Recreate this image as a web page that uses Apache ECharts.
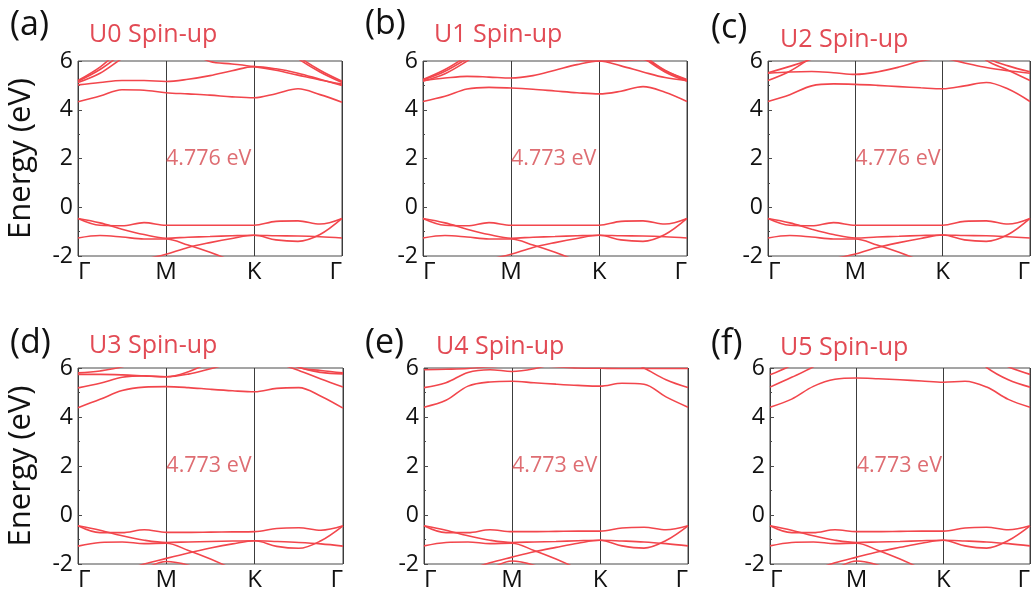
<!DOCTYPE html>
<html><head><meta charset="utf-8">
<script src="https://cdn.jsdelivr.net/npm/echarts@6/dist/echarts.min.js"></script>
<style>html,body{margin:0;padding:0;background:#fff}#c{width:1033px;height:592px}</style>
</head><body><div id="c"></div>
<script>
// ---- data ----
const kPos = [0, 0.25, 0.5, 0.75, 1, 1.25, 1.5, 1.75, 2, 2.25, 2.5, 2.75, 3];
const kLabels = ['Γ', 'M', 'K', 'Γ'];
const panelTags = ['(a)', '(b)', '(c)', '(d)', '(e)', '(f)'];
const panelTitles = ['U0 Spin-up', 'U1 Spin-up', 'U2 Spin-up', 'U3 Spin-up', 'U4 Spin-up', 'U5 Spin-up'];
const gapTexts = ['4.776 eV', '4.773 eV', '4.776 eV', '4.773 eV', '4.773 eV', '4.773 eV'];
const yAxisName = 'Energy (eV)';

const bandsA = [
  [4.33, 4.56, 4.82, 4.80, 4.70, 4.65, 4.60, 4.53, 4.49, 4.66, 4.86, 4.62, 4.31],
  [5.02, 5.12, 5.20, 5.20, 5.16, 5.25, 5.40, 5.60, 5.77, 5.68, 5.50, 5.25, 5.00],
  [5.12, 5.50, 6.10, 6.60, 6.80, 6.40, 5.98, 5.88, 5.77, 5.62, 5.42, 5.22, 5.05],
  [5.17, 5.65, 6.30, 6.90, 7.00, 7.00, 7.00, 7.00, 7.00, 6.80, 6.10, 5.55, 5.12],
  [5.20, 5.75, 6.50, 7.00, 7.00, 7.00, 7.00, 7.00, 7.00, 7.00, 6.20, 5.62, 5.17],
  [-0.46, -0.64, -0.90, -1.12, -1.27, -1.23, -1.20, -1.17, -1.15, -1.17, -1.18, -1.21, -1.26],
  [-0.46, -0.74, -0.76, -0.63, -0.74, -0.74, -0.74, -0.74, -0.74, -0.58, -0.56, -0.69, -0.46],
  [-1.26, -1.16, -1.22, -1.30, -1.30, -1.55, -1.85, -2.20, -2.60, -2.70, -2.60, -2.50, -2.40],
  [-2.90, -2.70, -2.45, -2.15, -1.93, -1.65, -1.45, -1.28, -1.15, -1.34, -1.40, -1.12, -0.46]
];
const bandsB = [
  [4.34, 4.55, 4.85, 4.92, 4.89, 4.84, 4.77, 4.70, 4.65, 4.76, 4.95, 4.72, 4.34],
  [5.20, 5.30, 5.37, 5.34, 5.30, 5.40, 5.62, 5.85, 6.00, 5.80, 5.55, 5.32, 5.20],
  [5.17, 5.48, 6.00, 6.60, 7.00, 6.70, 6.30, 6.05, 6.00, 6.02, 6.05, 5.60, 5.20],
  [5.22, 5.58, 6.10, 6.70, 7.00, 7.00, 7.00, 7.00, 7.00, 6.90, 6.15, 5.55, 5.17],
  [5.24, 5.65, 6.20, 6.80, 7.00, 7.00, 7.00, 7.00, 7.00, 7.00, 6.25, 5.62, 5.24],
  [-0.46, -0.64, -0.90, -1.12, -1.27, -1.23, -1.20, -1.17, -1.15, -1.17, -1.18, -1.21, -1.26],
  [-0.46, -0.74, -0.76, -0.63, -0.74, -0.74, -0.74, -0.74, -0.74, -0.58, -0.56, -0.69, -0.46],
  [-1.26, -1.16, -1.22, -1.30, -1.30, -1.55, -1.85, -2.20, -2.60, -2.70, -2.60, -2.50, -2.40],
  [-2.90, -2.70, -2.45, -2.15, -1.93, -1.65, -1.45, -1.28, -1.15, -1.34, -1.40, -1.12, -0.46]
];
const bandsC = [
  [4.34, 4.62, 4.98, 5.06, 5.04, 5.00, 4.95, 4.90, 4.86, 4.98, 5.12, 4.85, 4.34],
  [5.50, 5.55, 5.57, 5.52, 5.45, 5.55, 5.75, 6.00, 6.10, 5.92, 5.73, 5.60, 5.50],
  [5.20, 5.58, 6.15, 6.70, 7.00, 7.00, 7.00, 7.00, 7.00, 6.80, 6.03, 5.62, 5.20],
  [5.52, 5.78, 6.08, 6.50, 7.00, 7.00, 7.00, 7.00, 7.00, 7.00, 6.15, 5.80, 5.56],
  [-0.46, -0.64, -0.90, -1.12, -1.26, -1.22, -1.19, -1.16, -1.14, -1.16, -1.17, -1.21, -1.26],
  [-0.46, -0.74, -0.76, -0.63, -0.74, -0.74, -0.74, -0.74, -0.74, -0.58, -0.56, -0.69, -0.46],
  [-1.26, -1.16, -1.22, -1.30, -1.30, -1.55, -1.85, -2.20, -2.60, -2.70, -2.60, -2.50, -2.40],
  [-2.90, -2.65, -2.40, -2.12, -1.92, -1.65, -1.45, -1.28, -1.14, -1.34, -1.40, -1.12, -0.46]
];
const bandsD = [
  [4.38, 4.72, 5.08, 5.22, 5.24, 5.20, 5.13, 5.07, 5.03, 5.17, 5.20, 4.85, 4.36],
  [5.19, 5.38, 5.62, 5.68, 5.64, 5.75, 5.97, 6.20, 6.40, 6.20, 5.90, 5.55, 5.22],
  [5.74, 5.74, 5.72, 5.68, 5.64, 5.85, 6.25, 6.70, 7.00, 6.70, 6.05, 5.82, 5.76],
  [5.80, 5.88, 6.05, 6.40, 7.00, 7.00, 7.00, 7.00, 7.00, 6.50, 6.02, 5.90, 5.80],
  [-0.44, -0.62, -0.85, -1.03, -1.12, -1.10, -1.08, -1.06, -1.05, -1.08, -1.12, -1.18, -1.27],
  [-0.44, -0.72, -0.72, -0.60, -0.71, -0.71, -0.70, -0.69, -0.68, -0.55, -0.52, -0.62, -0.44],
  [-1.27, -1.12, -1.10, -1.17, -1.15, -1.45, -1.80, -2.20, -2.60, -2.70, -2.60, -2.50, -2.40],
  [-2.90, -2.60, -2.30, -2.00, -1.77, -1.55, -1.35, -1.18, -1.05, -1.28, -1.36, -1.05, -0.44],
  [-3.00, -3.00, -2.70, -2.20, -1.90, -2.05, -2.40, -2.80, -3.00, -3.00, -3.00, -3.00, -3.00]
];
const bandsE = [
  [4.40, 4.68, 5.26, 5.43, 5.46, 5.40, 5.34, 5.29, 5.26, 5.38, 5.34, 4.82, 4.40],
  [5.20, 5.40, 5.82, 5.93, 5.86, 5.97, 6.20, 6.40, 6.50, 6.40, 6.00, 5.52, 5.20],
  [5.93, 5.95, 5.98, 6.05, 6.10, 6.10, 6.05, 6.00, 5.99, 5.98, 5.98, 5.98, 5.98],
  [-0.44, -0.62, -0.85, -1.03, -1.12, -1.10, -1.08, -1.05, -1.03, -1.06, -1.10, -1.17, -1.26],
  [-0.44, -0.72, -0.72, -0.60, -0.68, -0.68, -0.67, -0.66, -0.66, -0.53, -0.50, -0.60, -0.44],
  [-1.26, -1.12, -1.10, -1.17, -1.15, -1.45, -1.80, -2.20, -2.60, -2.70, -2.60, -2.50, -2.40],
  [-2.90, -2.55, -2.25, -1.95, -1.72, -1.50, -1.32, -1.15, -1.03, -1.26, -1.35, -1.04, -0.44],
  [-3.00, -3.00, -2.70, -2.20, -1.88, -2.05, -2.40, -2.80, -3.00, -3.00, -3.00, -3.00, -3.00]
];
const bandsF = [
  [4.40, 4.73, 5.25, 5.54, 5.59, 5.56, 5.52, 5.47, 5.42, 5.46, 5.22, 4.72, 4.40],
  [5.22, 5.62, 6.05, 6.60, 7.00, 7.00, 7.00, 7.00, 7.00, 6.80, 6.02, 5.52, 5.22],
  [5.72, 6.12, 6.70, 7.00, 7.00, 7.00, 7.00, 7.00, 7.00, 7.00, 6.50, 6.05, 5.74],
  [-0.44, -0.62, -0.85, -1.03, -1.12, -1.10, -1.08, -1.05, -1.03, -1.06, -1.10, -1.17, -1.26],
  [-0.44, -0.72, -0.72, -0.60, -0.68, -0.68, -0.67, -0.66, -0.66, -0.53, -0.50, -0.60, -0.44],
  [-1.26, -1.12, -1.10, -1.17, -1.15, -1.45, -1.80, -2.20, -2.60, -2.70, -2.60, -2.50, -2.40],
  [-2.90, -2.55, -2.25, -1.95, -1.72, -1.50, -1.32, -1.15, -1.03, -1.26, -1.35, -1.04, -0.44],
  [-3.00, -3.00, -2.70, -2.20, -1.88, -2.05, -2.40, -2.80, -3.00, -3.00, -3.00, -3.00, -3.00]
];
const allBands = [bandsA, bandsB, bandsC, bandsD, bandsE, bandsF];

// ---- layout / style ----
const FONT = '"Open Sans", "Noto Sans", sans-serif';
const BAND = '#f2464c';
const TITLE = '#e24a54';
const GAP = '#d6484f';
const gridPos = [
  {left: 78, top: 61, width: 264, height: 195},
  {left: 423, top: 61, width: 264, height: 195},
  {left: 768, top: 61, width: 263, height: 195},
  {left: 78, top: 368, width: 265, height: 196},
  {left: 424, top: 368, width: 264, height: 196},
  {left: 770, top: 368, width: 264, height: 196}
];
const tagPos = [[10, 25], [365, 24], [711, 28], [10, 343], [365, 343], [711, 344]];
const titlePos = [[89, 35], [434, 35], [780, 40], [89, 346], [436, 347], [780, 348]];

const grids = [], xAxes = [], yAxes = [], series = [], graphics = [];
gridPos.forEach((g, i) => {
  grids.push(Object.assign({show: true, borderColor: '#4a4a4a', borderWidth: 1, backgroundColor: 'transparent', containLabel: false}, g));
  xAxes.push({
    type: 'value', gridIndex: i, min: 0, max: 3, interval: 1,
    axisLine: {show: false}, axisTick: {show: false},
    splitLine: {show: true, lineStyle: {color: '#3c3c3c', width: 1}},
    axisLabel: {
      formatter: v => kLabels[Math.round(v)], fontSize: 24, color: '#111', fontFamily: FONT,
      margin: 4, alignMinLabel: 'left', alignMaxLabel: 'right', showMinLabel: true, showMaxLabel: true
    }
  });
  yAxes.push({
    type: 'value', gridIndex: i, min: -2, max: 6, interval: 2,
    name: (i % 3 === 0) ? yAxisName : '', nameLocation: 'middle', nameGap: 41,
    nameTextStyle: {fontSize: 31, color: '#111', fontFamily: FONT},
    axisLine: {show: false},
    axisTick: {show: true, inside: true, length: 4, lineStyle: {color: '#4a4a4a'}},
    minorTick: {show: true, splitNumber: 2, length: 2, lineStyle: {color: '#4a4a4a'}},
    splitLine: {show: false},
    axisLabel: {fontSize: 23, color: '#111', fontFamily: FONT, margin: 5, showMinLabel: true, showMaxLabel: true}
  });
  allBands[i].forEach(b => {
    series.push({
      type: 'line', xAxisIndex: i, yAxisIndex: i, smooth: 0.35, symbol: 'none', silent: true,
      clip: true, lineStyle: {color: BAND, width: 1.6}, z: 3,
      data: kPos.map((x, j) => [x, b[j]])
    });
  });
  series.push({
    type: 'scatter', xAxisIndex: i, yAxisIndex: i, symbolSize: 0, silent: true, z: 4,
    data: [[1, 2]],
    label: {show: true, position: 'right', distance: 0, formatter: gapTexts[i], color: GAP, fontSize: 21.5, fontFamily: FONT}
  });
  graphics.push({
    type: 'text', x: tagPos[i][0], y: tagPos[i][1],
    style: {text: panelTags[i], fill: '#111', font: '34px ' + FONT, textAlign: 'left', textVerticalAlign: 'middle', align: 'left', verticalAlign: 'middle'}
  });
  graphics.push({
    type: 'text', x: titlePos[i][0], y: titlePos[i][1],
    style: {text: panelTitles[i], fill: TITLE, font: '25px ' + FONT, textAlign: 'left', textVerticalAlign: 'middle', align: 'left', verticalAlign: 'middle'}
  });
});

const chart = echarts.init(document.getElementById('c'), null, {renderer: 'canvas'});
chart.setOption({
  animation: false,
  backgroundColor: '#fff',
  grid: grids, xAxis: xAxes, yAxis: yAxes, series: series, graphic: graphics
});
</script></body></html>
